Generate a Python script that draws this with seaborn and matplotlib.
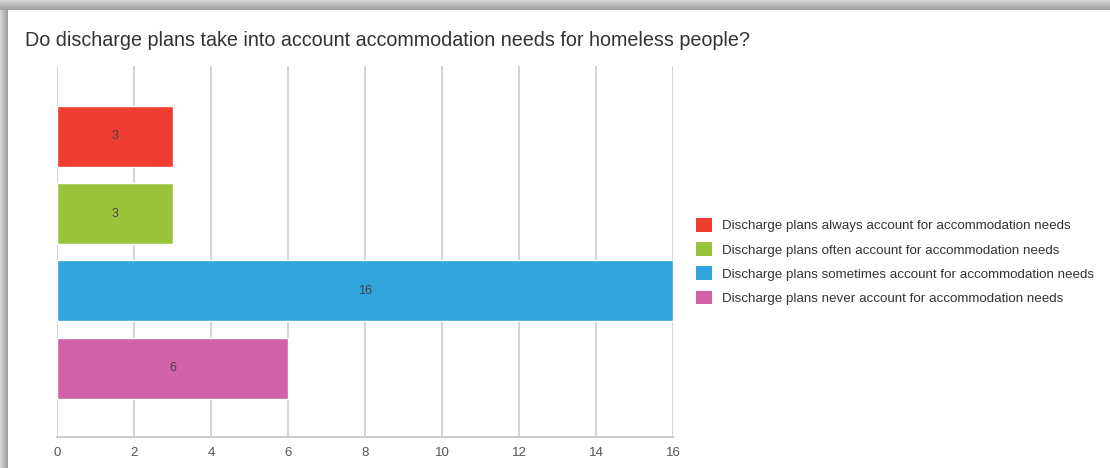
import numpy as np
import pandas as pd
import matplotlib
matplotlib.use("Agg")
import matplotlib.pyplot as plt
from matplotlib.patches import Patch
import seaborn as sns

title = "Do discharge plans take into account accommodation needs for homeless people?"
responses = [
    "Discharge plans always account for accommodation needs",
    "Discharge plans often account for accommodation needs",
    "Discharge plans sometimes account for accommodation needs",
    "Discharge plans never account for accommodation needs",
]
counts = [3, 3, 16, 6]
colors = ["#EF3E31", "#9BC43D", "#32A4DD", "#D162A7"]
x_ticks = [0, 2, 4, 6, 8, 10, 12, 14, 16]

sns.set_theme(style="white")
plt.rcParams["font.family"] = ["Liberation Sans", "DejaVu Sans"]

df = pd.DataFrame({"response": responses, "count": counts})

fig = plt.figure(figsize=(11.1, 4.68), dpi=100)

# soft frame shadow along the top and left edges
bg = fig.add_axes([0, 0, 1, 1], zorder=-10)
top = np.linspace(0.84, 0.62, 10)[:, None] * np.ones((1, 1110))
bg.imshow(np.dstack([top] * 3), extent=(0, 1110, 10, 0), aspect="auto")
left = np.linspace(0.84, 0.62, 8)[None, :] * np.ones((458, 1))
bg.imshow(np.dstack([left] * 3), extent=(0, 8, 468, 10), aspect="auto")
bg.set_xlim(0, 1110)
bg.set_ylim(468, 0)
bg.axis("off")

ax = fig.add_axes([57 / 1110, 1 - 437 / 468, (673 - 57) / 1110, (437 - 66) / 468])
sns.barplot(data=df, y="response", x="count", hue="response",
            palette=colors, dodge=False, width=0.79, orient="h",
            legend=False, ax=ax, saturation=1)

ax.set_xlim(0, 16)
ax.set_ylim(3.89, -0.91)
ax.set_xticks(x_ticks)
ax.set_xticklabels([str(t) for t in x_ticks], color="#555555", fontsize=9.5)
ax.set_yticks([])
ax.set_xlabel("")
ax.set_ylabel("")
ax.grid(axis="x", color="#cccccc", linewidth=1.2)
ax.set_axisbelow(True)
for s in ["top", "right", "left"]:
    ax.spines[s].set_visible(False)
ax.spines["bottom"].set_color("#cccccc")
ax.spines["bottom"].set_linewidth(1.5)
ax.tick_params(axis="x", length=0, pad=7)

for i, v in enumerate(counts):
    ax.text(v / 2, i, str(v), ha="center", va="center", fontsize=9, color="#444444")

fig.text(25 / 1110, 1 - 41 / 468, title, fontsize=14.2, color="#333333", va="center")

handles = [Patch(facecolor=c, edgecolor="none") for c in colors]
fig.legend(handles, responses, loc="upper left", bbox_to_anchor=(696 / 1110, 1 - 218 / 468),
           frameon=False, fontsize=9.6, handlelength=1.2, handleheight=1.2,
           handletextpad=0.72, labelspacing=0.74, labelcolor="#333333", borderaxespad=0,
           borderpad=0)

fig.savefig("out.png", dpi=100, facecolor="white")
